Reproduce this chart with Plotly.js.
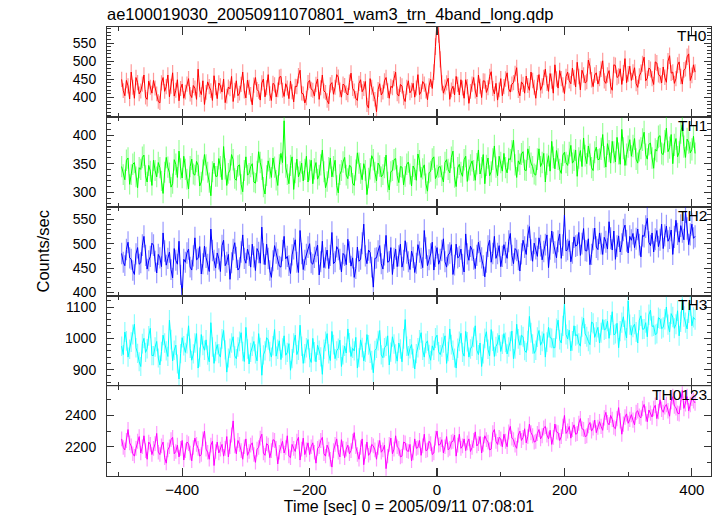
<!DOCTYPE html>
<html>
<head>
<meta charset="utf-8">
<script src="https://cdn.plot.ly/plotly-3.0.1.min.js"></script>
<style>html,body{margin:0;padding:0;background:#fff;}#chart{width:717px;height:516px;}</style>
</head>
<body>
<div id="chart"></div>
<script>
// Time grid: bin start and bin width (seconds, relative to 2005/09/11 07:08:01)
const tStart = -495;
const tStep = 2.5;

const seriesNames = ["TH0", "TH1", "TH2", "TH3", "TH0123"];
const seriesColors = ["#ff0000", "#00ff00", "#0000ff", "#00ffff", "#ff00ff"];
const seriesErrColors = ["rgba(255,0,0,0.4)", "rgba(0,255,0,0.4)", "rgba(0,0,255,0.4)", "rgba(0,255,255,0.45)", "rgba(255,0,255,0.4)"];

const th0 = [
450,419,405,447,432,396,470,428,398,455,441,410,418,437,462,401,395,445,428,412,
447,426,410,389,385,440,455,417,430,462,402,431,468,404,420,449,391,425,437,398,
415,437,452,409,400,433,426,395,478,421,408,446,381,414,443,430,419,392,460,427,
397,440,432,415,451,386,404,429,424,458,389,420,446,405,412,436,470,418,399,448,
428,409,380,434,455,422,417,393,440,451,402,427,463,411,392,439,435,402,421,456,
458,420,403,438,426,397,445,416,388,431,430,460,475,412,410,385,399,441,447,423,
420,404,436,451,395,427,462,418,414,392,383,435,441,409,428,463,456,421,401,437,
433,413,407,442,467,425,418,398,392,439,449,416,425,444,380,371,452,428,410,395,
361,422,438,407,415,446,455,419,398,431,427,452,470,410,404,436,432,399,389,428,
446,413,420,439,401,426,463,408,416,444,437,418,394,432,450,425,470,540,610,575,
505,440,412,429,440,453,395,421,431,407,458,436,407,449,426,398,449,430,384,417,
437,455,418,402,462,431,400,446,445,414,427,458,471,425,410,439,393,421,452,405,
430,451,468,424,415,437,441,466,482,419,405,443,436,412,459,433,420,470,447,428,
398,441,463,420,432,455,478,439,417,466,445,412,490,451,426,474,452,435,411,458,
470,446,438,481,455,429,497,458,421,475,462,440,444,503,486,449,430,462,468,437,
452,478,501,446,439,462,474,431,420,490,488,455,459,479,436,468,507,441,465,486,
447,470,482,438,428,459,469,493,511,446,453,481,477,452,436,498,495,463,460,440,
484,456,442,500,515,467,470,439,452,489,498,458,437,476,480,512,520,447,461,490,
470];

const th1 = [
345,331,322,356,360,314,331,349,352,327,308,343,340,361,365,329,318,347,337,312,
356,338,327,352,343,320,298,335,361,344,334,309,315,357,349,326,372,341,325,363,
340,323,306,345,358,332,330,354,347,311,318,339,366,348,335,317,294,336,351,328,
328,359,345,322,380,341,312,333,339,366,357,324,321,346,348,314,301,338,362,330,
333,345,350,318,316,337,371,352,340,309,297,329,355,342,326,360,344,321,312,348,
368,352,425,344,331,315,347,362,305,334,358,327,336,351,320,340,363,318,339,356,
315,341,352,323,330,348,374,336,308,319,343,360,327,345,356,312,299,331,338,353,
361,330,324,347,345,316,312,339,369,351,333,322,350,338,296,325,341,364,357,335,
320,351,346,327,331,343,365,318,304,336,338,357,359,329,317,345,344,313,328,349,
353,332,311,346,340,321,367,355,326,341,348,315,302,334,337,358,362,324,330,344,
345,329,318,352,357,340,334,361,372,326,310,343,349,335,328,357,363,319,339,348,
355,338,321,350,374,332,343,366,315,347,360,329,336,358,381,344,329,363,352,337,
368,343,334,359,357,372,391,348,326,355,349,367,371,339,338,376,362,351,345,332,
330,358,376,345,352,368,318,349,364,337,389,361,341,373,358,340,333,365,370,352,
347,369,382,351,356,374,328,360,373,345,395,364,350,381,366,343,338,370,379,357,
358,376,401,362,344,385,372,351,389,370,353,396,368,349,410,377,347,366,380,392,
363,381,394,358,351,373,377,392,405,366,358,384,386,360,342,375,372,397,399,368,
366,389,412,371,378,401,350,383,394,362,370,405,418,380,361,393,387,369,375,398,
368];

const th2 = [
480,462,455,488,503,471,468,445,437,479,492,458,461,497,515,476,448,465,474,501,
497,464,440,478,471,453,522,485,456,470,483,447,430,490,466,458,505,436,395,468,
462,481,489,452,446,475,512,467,470,494,438,459,495,472,458,443,530,486,466,450,
481,469,443,496,507,455,462,478,427,461,488,502,472,446,451,483,518,470,460,489,
476,452,499,473,445,490,482,460,534,479,457,499,470,445,431,465,496,481,468,454,
452,486,515,469,474,455,439,477,490,508,462,441,527,480,447,466,478,493,500,461,
458,472,484,497,436,463,505,451,471,487,449,476,523,459,463,494,488,468,442,480,
476,457,509,483,454,471,431,449,493,464,468,501,540,475,459,487,482,452,411,470,
471,485,496,459,448,477,517,462,464,492,437,470,489,453,475,499,452,466,506,481,
463,447,485,472,441,460,498,483,470,451,527,491,455,467,479,503,446,474,492,458,
468,486,510,463,452,477,481,498,437,456,499,471,474,489,458,442,520,479,466,495,
487,468,449,476,503,484,471,455,432,462,495,507,462,480,515,470,480,496,453,474,
498,482,470,505,521,476,459,490,486,467,444,479,507,493,478,516,535,487,464,501,
490,474,512,496,467,484,498,518,451,489,526,502,483,471,505,520,470,497,559,485,
488,506,463,481,514,495,497,523,476,500,531,486,485,510,457,478,509,532,493,488,
522,500,478,513,504,489,545,511,487,526,468,495,516,483,499,528,538,506,481,515,
507,521,492,510,530,498,473,517,515,535,552,503,496,522,483,509,527,494,508,540,
490,517,536,505,512,528,478,514,548,520,503,537,525,508,566,531,498,519,540,511,
515];

const th3 = [
975,948,1020,992,940,965,988,1012,1045,970,952,925,910,983,1000,955,967,1008,1032,945,
945,972,990,937,915,958,1010,985,960,942,1058,996,928,962,978,918,870,951,1002,976,
955,983,1040,968,930,950,985,1015,905,940,1012,977,962,995,946,925,1050,972,920,958,
980,951,940,998,1025,963,892,937,968,985,1005,944,935,972,990,1018,958,926,1035,966,
918,955,975,990,950,928,1015,971,882,947,960,1002,995,958,940,976,1028,943,965,992,
932,969,1008,946,955,983,898,935,985,1010,948,962,1042,975,920,951,970,996,938,923,
1000,957,925,978,962,941,885,965,990,1015,950,929,1022,980,935,960,968,994,910,947,
975,953,1030,986,942,968,960,1003,905,938,995,971,928,955,1012,979,952,930,890,961,
968,993,1025,947,938,970,975,1008,915,956,1005,982,950,927,985,966,925,998,1060,975,
945,967,980,936,902,951,970,995,1018,962,940,984,992,949,930,976,962,1001,1010,957,
948,972,985,1008,920,958,1030,980,962,937,905,968,990,1016,955,943,1022,989,940,966,
975,1003,1040,962,948,985,910,950,1000,1021,965,944,1028,991,942,974,985,1010,958,981,
1015,987,950,972,990,1023,935,966,1045,998,978,1010,1005,961,955,993,1070,1018,982,952,
962,1004,1025,978,990,1015,940,988,1035,1002,1000,970,970,1031,1058,996,985,1040,1110,1012,
998,1026,960,992,1040,1008,1012,985,975,1037,1065,1014,1005,990,980,1052,1048,1003,1020,1035,
985,1018,1060,1027,1030,1055,1000,1042,1085,1011,1015,1048,970,1023,1050,1069,1025,1001,1120,1044,
1010,1036,1045,1020,985,1058,1072,1029,1030,1050,1005,1075,1090,1038,1040,1012,1015,1066,1062,1031,
1035,1061,1100,1044,1020,1079,1068,1032,1045,1088,1008,1053,1125,1070,1050,1030,1082,1105,1040,1067,
1060];

const th0123 = [
2250,2195,2180,2240,2310,2225,2205,2155,2140,2190,2235,2265,2160,2200,2270,2175,2120,2230,2215,2150,
2190,2220,2285,2165,2150,2205,2230,2130,2095,2180,2200,2245,2260,2155,2170,2210,2135,2190,2240,2115,
2175,2230,2220,2160,2110,2195,2255,2215,2190,2140,2150,2250,2300,2185,2165,2120,2210,2235,2080,2170,
2230,2160,2185,2215,2140,2190,2265,2135,2200,2275,2365,2205,2155,2240,2215,2175,2120,2200,2250,2145,
2170,2210,2225,2150,2100,2185,2195,2255,2280,2160,2145,2220,2210,2130,2175,2245,2240,2190,2090,2165,
2205,2235,2160,2195,2270,2140,2130,2215,2190,2170,2235,2260,2115,2185,2255,2150,2180,2225,2150,2200,
2225,2165,2095,2190,2200,2240,2260,2155,2140,2210,2185,2120,2070,2175,2215,2250,2165,2135,2245,2190,
2130,2185,2210,2155,2175,2235,2290,2200,2150,2120,2195,2250,2085,2170,2230,2145,2160,2215,2205,2180,
2120,2195,2240,2165,2180,2210,2060,2140,2215,2255,2155,2185,2270,2200,2190,2135,2140,2230,2225,2175,
2170,2215,2110,2160,2250,2190,2195,2240,2145,2205,2280,2175,2180,2235,2220,2150,2160,2255,2300,2210,
2215,2245,2160,2200,2265,2180,2190,2230,2235,2275,2140,2210,2280,2190,2205,2250,2175,2225,2250,2170,
2195,2240,2295,2205,2220,2265,2160,2215,2270,2245,2230,2180,2185,2290,2310,2235,2215,2260,2250,2200,
2280,2235,2200,2295,2330,2255,2245,2210,2190,2275,2300,2240,2260,2315,2225,2265,2345,2290,2270,2230,
2235,2285,2310,2250,2270,2320,2330,2275,2250,2305,2215,2260,2345,2295,2290,2240,2265,2330,2400,2285,
2300,2330,2255,2310,2340,2280,2285,2350,2380,2315,2310,2265,2270,2335,2355,2300,2320,2370,2290,2325,
2360,2330,2305,2385,2420,2355,2340,2400,2375,2325,2315,2380,2450,2365,2280,2345,2390,2410,2350,2375,
2405,2370,2340,2420,2430,2395,2385,2445,2470,2410,2360,2435,2415,2390,2445,2465,2380,2425,2500,2440,
2420,2455,2470,2430,2395,2490,2520,2460,2450,2415,2410,2485,2560,2445,2475,2520,2430,2470,2510,2495,
2480];

const seriesValues = [th0, th1, th2, th3, th0123];

// Axis settings per panel (top to bottom)
const yRanges = [[347, 594], [275, 432], [392, 576], [847, 1134], [2013, 2587]];
const yTickVals = [[400, 450, 500, 550], [300, 350, 400], [400, 450, 500, 550], [900, 1000, 1100], [2200, 2400]];
const yMinorDticks = [10, 10, 10, 20, 100];
const xRange = [-518, 430];
const xTickVals = [-400, -200, 0, 200, 400];

const time = th0.map((_, i) => tStart + i * tStep);

const traces = seriesValues.map((vals, k) => ({
  type: 'scatter',
  mode: 'lines',
  x: time,
  y: vals,
  xaxis: k === 0 ? 'x' : 'x' + (k + 1),
  yaxis: k === 0 ? 'y' : 'y' + (k + 1),
  line: {color: seriesColors[k], width: 1},
  error_y: {type: 'sqrt', visible: true, color: seriesErrColors[k], thickness: 1.2, width: 0},
  showlegend: false,
  hoverinfo: 'skip'
}));

const fam = '"Liberation Sans", Arial, sans-serif';
const tickFont = {family: fam, size: 15, color: '#000'};
const yTickFont = {family: fam, size: 14, color: '#000'};
const layout = {
  width: 717, height: 516,
  margin: {l: 107, r: 6, t: 27, b: 40, pad: 0},
  paper_bgcolor: '#fff', plot_bgcolor: '#fff',
  font: tickFont,
  title: {text: 'ae100019030_20050911070801_wam3_trn_4band_long.qdp', x: 0, xref: 'paper', xanchor: 'left',
          y: 0.972, yref: 'container', yanchor: 'middle', font: {family: fam, size: 16.5, color: '#000'}},
  annotations: [],
  showlegend: false
};

const n = 5;
const h = 1 / n;
for (let k = 0; k < n; k++) {
  const xs = k === 0 ? 'xaxis' : 'xaxis' + (k + 1);
  const ys = k === 0 ? 'yaxis' : 'yaxis' + (k + 1);
  const yid = k === 0 ? 'y' : 'y' + (k + 1);
  const xid = k === 0 ? 'x' : 'x' + (k + 1);
  const top = 1 - k * h;
  const bottom = top - h;
  layout[xs] = {
    domain: [0, 1], anchor: yid, range: xRange, showgrid: false, zeroline: false,
    showline: true, linecolor: '#333', linewidth: 1, mirror: 'ticks',
    ticks: 'inside', ticklen: 8, tickcolor: '#333', tickwidth: 1.2,
    tickmode: 'array', tickvals: xTickVals,
    minor: {dtick: 100, tick0: 0, ticklen: 4, tickcolor: '#333', ticks: 'inside'},
    showticklabels: k === n - 1,
    tickfont: tickFont
  };
  if (k > 0) layout[xs].matches = 'x';
  if (k === n - 1) layout[xs].title = {text: 'Time [sec] 0 = 2005/09/11 07:08:01', font: {family: fam, size: 16, color: '#000'}, standoff: 3};
  layout[ys] = {
    domain: [bottom, top], anchor: xid, range: yRanges[k], showgrid: false, zeroline: false,
    showline: true, linecolor: '#333', linewidth: 1, mirror: 'ticks',
    ticks: 'inside', ticklen: 7, tickcolor: '#333', tickwidth: 1,
    tickmode: 'array', tickvals: yTickVals[k],
    minor: {dtick: yMinorDticks[k], tick0: 0, ticklen: 4, tickcolor: '#333', ticks: 'inside'},
    ticklabelstandoff: 7,
    tickfont: yTickFont
  };
  layout.annotations.push({
    text: seriesNames[k], xref: 'paper', x: 1, xanchor: 'right', xshift: -2,
    yref: yid + ' domain', y: 1, yanchor: 'top', yshift: 2,
    showarrow: false, font: {family: fam, size: 15.5, color: '#000'}
  });
}
layout.annotations.push({
  text: 'Counts/sec', xref: 'paper', x: 0, xanchor: 'center', xshift: -65,
  yref: 'paper', y: 0.5, yanchor: 'middle', textangle: -90,
  showarrow: false, font: {family: fam, size: 16.5, color: '#000'}
});

Plotly.newPlot('chart', traces, layout, {displayModeBar: false, staticPlot: true});
</script>
</body>
</html>
